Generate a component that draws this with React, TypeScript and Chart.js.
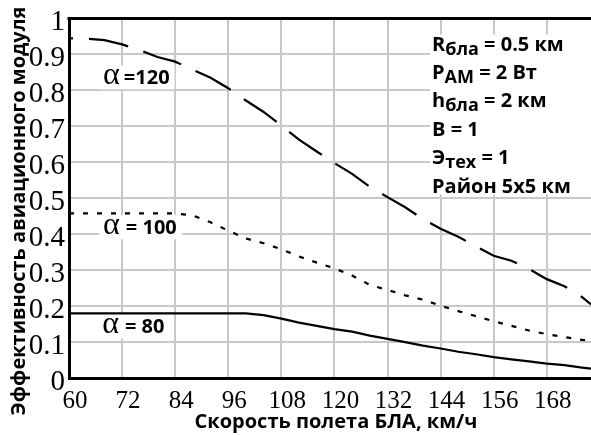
import React, { useEffect, useRef } from 'react';
import { Chart, registerables } from 'chart.js';

Chart.register(...registerables);

// ---- data ----
const speeds = [60, 64, 68, 72, 76, 80, 84, 88, 92, 96, 100, 104, 108, 112, 116, 120, 124, 128, 132, 136, 140, 144, 148, 152, 156, 160, 164, 168, 172, 176, 178];
const eff120 = [0.945, 0.944, 0.94, 0.928, 0.912, 0.893, 0.88, 0.857, 0.835, 0.806, 0.772, 0.74, 0.702, 0.663, 0.63, 0.598, 0.568, 0.532, 0.503, 0.475, 0.442, 0.415, 0.393, 0.366, 0.34, 0.326, 0.303, 0.275, 0.255, 0.225, 0.205];
const eff100 = [0.458, 0.458, 0.458, 0.458, 0.458, 0.458, 0.458, 0.452, 0.433, 0.41, 0.388, 0.375, 0.358, 0.338, 0.321, 0.305, 0.285, 0.259, 0.245, 0.23, 0.218, 0.201, 0.186, 0.172, 0.158, 0.145, 0.132, 0.122, 0.114, 0.106, 0.103];
const eff80 = [0.18, 0.18, 0.18, 0.18, 0.18, 0.18, 0.18, 0.18, 0.18, 0.18, 0.18, 0.175, 0.165, 0.154, 0.145, 0.136, 0.129, 0.118, 0.109, 0.1, 0.09, 0.082, 0.073, 0.066, 0.058, 0.052, 0.046, 0.04, 0.036, 0.029, 0.026];

const xTicks = [60, 72, 84, 96, 108, 120, 132, 144, 156, 168];
const yTicks = [0, 0.1, 0.2, 0.3, 0.4, 0.5, 0.6, 0.7, 0.8, 0.9, 1];
const yTickLabels = ['0', '0.1', '0.2', '0.3', '0.4', '0.5', '0.6', '0.7', '0.8', '0.9', '1'];

const seriesNames = ['=120', '= 100', '= 80'];
const xTitle = 'Скорость полета БЛА, км/ч';
const yTitle = 'Эффективность авиационного модуля';

// parameter lines: [main, subscript, rest]
const paramLines: string[][] = [
  ['R', 'бла', ' = 0.5 км'],
  ['P', 'AM', ' = 2 Вт'],
  ['h', 'бла', ' = 2 км'],
  ['B = 1', '', ''],
  ['Э', 'тех', ' = 1'],
  ['Район 5x5 км', '', ''],
];

const SANS = '"Open Sans", sans-serif';
const SERIF = '"Liberation Serif", serif';

const decor = {
  id: 'decor',
  beforeDatasetsDraw(chart: any) {
    const { ctx, chartArea } = chart;
    const xs = chart.scales.x;
    const ys = chart.scales.y;
    ctx.save();
    // curve labels
    const anchors = [
      { x: 67.7, y: 0.817 },
      { x: 67.7, y: 0.4 },
      { x: 67.5, y: 0.124 },
    ];
    seriesNames.forEach((name, i) => {
      const px = xs.getPixelForValue(anchors[i].x);
      const py = ys.getPixelForValue(anchors[i].y);
      ctx.font = `32px ${SERIF}`;
      const aw = ctx.measureText('α').width;
      ctx.font = `bold 20px ${SANS}`;
      const tw = ctx.measureText(name).width;
      const gap = i === 0 ? 4 : 6;
      ctx.fillStyle = '#fff';
      ctx.fillRect(px - 4, py - 19, aw + gap + tw + 9, 24);
      ctx.fillStyle = '#000';
      ctx.textBaseline = 'alphabetic';
      ctx.textAlign = 'left';
      ctx.font = `32px ${SERIF}`;
      ctx.fillText('α', px, py);
      ctx.font = `bold 20px ${SANS}`;
      ctx.fillText(name, px + aw + gap, py);
    });
    // parameter block
    const bx = chartArea.left + 361;
    const by = chartArea.top + 16;
    ctx.fillStyle = '#fff';
    ctx.fillRect(bx, by, chart.width - bx, 160);
    ctx.fillStyle = '#000';
    const left = bx + 2;
    paramLines.forEach((parts, i) => {
      const base = chartArea.top + 32 + i * 28.4;
      let cx = left;
      ctx.font = `bold 20px ${SANS}`;
      ctx.fillText(parts[0], cx, base);
      cx += ctx.measureText(parts[0]).width;
      if (parts[1]) {
        ctx.font = `bold 18px ${SANS}`;
        ctx.fillText(parts[1], cx, base + 4);
        cx += ctx.measureText(parts[1]).width;
      }
      if (parts[2]) {
        ctx.font = `bold 20px ${SANS}`;
        ctx.fillText(parts[2], cx, base);
      }
    });
    ctx.restore();
  },
  afterDraw(chart: any) {
    const { ctx, chartArea } = chart;
    ctx.save();
    ctx.strokeStyle = '#000';
    ctx.lineWidth = 3;
    ctx.beginPath();
    ctx.moveTo(chartArea.left - 1.5, chartArea.top);
    ctx.lineTo(chart.width, chartArea.top);
    ctx.stroke();
    ctx.fillStyle = '#000';
    ctx.font = `bold 20px ${SANS}`;
    ctx.textAlign = 'center';
    ctx.textBaseline = 'alphabetic';
    ctx.fillText(xTitle, 336, chartArea.bottom + 50);
    ctx.translate(25, 211);
    ctx.rotate(-Math.PI / 2);
    ctx.fillText(yTitle, 0, 0);
    ctx.restore();
  },
};

export default function App() {
  const ref = useRef<HTMLCanvasElement | null>(null);
  useEffect(() => {
    document.body.style.margin = '0';
    const canvas = ref.current!;
    const chart = new Chart(canvas, {
      type: 'line',
      data: {
        labels: speeds,
        datasets: [
          { label: 'α=120', data: speeds.map((s, i) => ({ x: s, y: eff120[i] })), borderColor: '#000', borderWidth: 2.2, borderDash: [40, 16], borderDashOffset: 36, pointRadius: 0, fill: false, tension: 0 },
          { label: 'α=100', data: speeds.map((s, i) => ({ x: s, y: eff100[i] })), borderColor: '#000', borderWidth: 2.2, borderDash: [5, 9], pointRadius: 0, fill: false, tension: 0 },
          { label: 'α=80', data: speeds.map((s, i) => ({ x: s, y: eff80[i] })), borderColor: '#000', borderWidth: 2.2, pointRadius: 0, fill: false, tension: 0 },
        ],
      },
      options: {
        animation: false,
        responsive: false,
        layout: { padding: { top: 16, left: 0, right: 0, bottom: 0 } },
        plugins: { legend: { display: false }, tooltip: { enabled: false } },
        scales: {
          x: {
            type: 'linear',
            min: 60,
            max: 178,
            afterBuildTicks: (s: any) => { s.ticks = xTicks.map((v) => ({ value: v })); },
            afterFit: (s: any) => { s.height = 57; },
            grid: { color: '#c8c8c8', lineWidth: 2, drawTicks: false },
            border: { display: true, color: '#000', width: 3 },
            ticks: { color: '#000', font: { family: 'Liberation Serif', size: 25 }, padding: 8, labelOffset: 6, maxRotation: 0, autoSkip: false },
          },
          y: {
            min: 0,
            max: 1,
            afterBuildTicks: (s: any) => { s.ticks = yTicks.map((v) => ({ value: v })); },
            afterFit: (s: any) => { s.width = 69; },
            grid: { color: '#c8c8c8', lineWidth: 2, drawTicks: false },
            border: { display: true, color: '#000', width: 3 },
            ticks: {
              color: '#000',
              font: { family: 'Liberation Serif', size: 29, lineHeight: 1 },
              padding: 4,
              labelOffset: 4,
              autoSkip: false,
              callback: (_v: any, i: number) => yTickLabels[i],
            },
          },
        },
      },
      plugins: [decor],
    } as any);
    return () => chart.destroy();
  }, []);
  return (
    <div style={{ position: 'absolute', left: 0, top: 0, width: 591, height: 435, background: '#fff' }}>
      <canvas ref={ref} width={591} height={435} />
    </div>
  );
}
